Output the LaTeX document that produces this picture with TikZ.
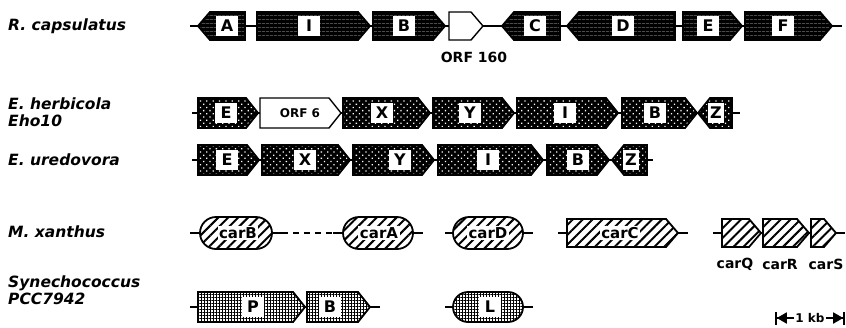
\documentclass[tikz,border=0pt]{standalone}
\usepackage{fontspec}
\setmainfont{DejaVu Sans}
\usetikzlibrary{patterns.meta,arrows.meta}
\newcommand{\geneR}[5]{\draw[#1] (#2,#4-#5) -- (#3-12,#4-#5) -- (#3,#4) -- (#3-12,#4+#5) -- (#2,#4+#5) -- cycle;}
\newcommand{\geneL}[5]{\draw[#1] (#3,#4-#5) -- (#2+12,#4-#5) -- (#2,#4) -- (#2+12,#4+#5) -- (#3,#4+#5) -- cycle;}
\newcommand{\geneO}[5]{\draw[#1,rounded corners=#5pt] (#2,#4-#5) rectangle (#3,#4+#5);}
\begin{document}
\begin{tikzpicture}[x=1pt,y=-1pt,
  bb/.style={line width=2pt},
  rcap/.style={draw,line width=1.8pt,preaction={fill=black},pattern={Lines[angle=0,distance=4pt,line width=0.6pt]},pattern color=black!55},
  erw/.style={draw,line width=1.8pt,preaction={fill=black},pattern={Dots[angle=45,distance=4.5pt,radius=0.9pt]},pattern color=white},
  orf/.style={draw,line width=1.4pt,fill=white},
  mxa/.style={draw,line width=1.8pt,preaction={fill=white},pattern={Lines[angle=45,distance=7pt,line width=2pt]}},
  syn/.style={draw,line width=1.8pt,preaction={fill=white},pattern={Hatch[angle=0,distance=3pt,line width=0.8pt]}},
  lbl/.style={fill=white,inner sep=1.5pt,minimum height=20pt,minimum width=22pt,font=\bfseries\fontsize{16}{16}\selectfont},
  clbl/.style={fill=white,inner sep=1.5pt,font=\bfseries\fontsize{15}{15}\selectfont},
  sp/.style={anchor=west,align=left,inner sep=0pt,font=\bfseries\itshape\fontsize{15.5}{17.5}\selectfont},
  tx/.style={inner sep=0pt,font=\bfseries\fontsize{14}{14}\selectfont},
  kbar/.style={line width=1.8pt,-{Triangle[length=10pt,width=11pt]Bar[width=13pt]}}]
\useasboundingbox (0,0) rectangle (846,327);
\node[sp] (rcap) at (8,26) {R. capsulatus};
\node[sp] (eher) at (8,112) {E. herbicola\\Eho10};
\node[sp] (ured) at (8,160) {E. uredovora};
\node[sp] (mxan) at (8,232) {M. xanthus};
\node[sp] (syne) at (8,290) {Synechococcus\\PCC7942};
\path (190,26) coordinate (r1s) (842,26) coordinate (r1e);
\draw[bb] (r1s) -- (r1e);
\geneL{rcap}{198}{245}{26}{14}
\geneR{rcap}{257}{370}{26}{14}
\geneR{rcap}{373}{445}{26}{14}
\geneR{orf}{449}{483}{26}{14}
\geneL{rcap}{502}{560}{26}{14}
\geneL{rcap}{567}{675}{26}{14}
\geneR{rcap}{683}{742}{26}{14}
\geneR{rcap}{745}{832}{26}{14}
\node[lbl] (rcA) at (227,26) {A};
\node[lbl] (rcI) at (309,26) {I};
\node[lbl] (rcB) at (404,26) {B};
\node[lbl] (rcC) at (535,26) {C};
\node[lbl] (rcD) at (623,26) {D};
\node[lbl] (rcE) at (708,26) {E};
\node[lbl] (rcF) at (783,26) {F};
\node[tx] (orf160) at (474,57) {ORF 160};
\path (192,113) coordinate (r2s) (740,113) coordinate (r2e);
\draw[bb] (r2s) -- (r2e);
\geneR{erw}{198}{258}{113}{15}
\geneR{orf}{260}{341}{113}{15}
\geneR{erw}{343}{430}{113}{15}
\geneR{erw}{433}{514}{113}{15}
\geneR{erw}{517}{618}{113}{15}
\geneR{erw}{622}{697}{113}{15}
\geneL{erw}{698}{732}{113}{15}
\node[lbl] (ehE) at (226,113) {E};
\node[tx,font=\bfseries\fontsize{12}{12}\selectfont] (ehO) at (300,113) {ORF 6};
\node[lbl] (ehX) at (382,113) {X};
\node[lbl] (ehY) at (470,113) {Y};
\node[lbl] (ehI) at (565,113) {I};
\node[lbl] (ehB) at (655,113) {B};
\node[lbl,minimum width=16pt] (ehZ) at (716,113) {Z};
\path (192,160) coordinate (r3s) (653,160) coordinate (r3e);
\draw[bb] (r3s) -- (r3e);
\geneR{erw}{198}{259}{160}{15}
\geneR{erw}{262}{350}{160}{15}
\geneR{erw}{353}{434}{160}{15}
\geneR{erw}{438}{543}{160}{15}
\geneR{erw}{547}{609}{160}{15}
\geneL{erw}{612}{647}{160}{15}
\node[lbl] (euE) at (227,160) {E};
\node[lbl] (euX) at (305,160) {X};
\node[lbl] (euY) at (400,160) {Y};
\node[lbl] (euI) at (488,160) {I};
\node[lbl] (euB) at (578,160) {B};
\node[lbl,minimum width=16pt] (euZ) at (631,160) {Z};
\path (190,233) coordinate (r4s) (282,233) coordinate (r4a) (333,233) coordinate (r4b) (423,233) coordinate (r4c);
\draw[bb] (r4s) -- (r4a);
\draw[bb,dash pattern=on 6pt off 5pt] (r4a) -- (r4b);
\draw[bb] (r4b) -- (r4c);
\path (445,233) coordinate (r4d) (533,233) coordinate (r4e) (558,233) coordinate (r4f) (688,233) coordinate (r4g) (713,233) coordinate (r4h) (845,233) coordinate (r4i);
\draw[bb] (r4d) -- (r4e);
\draw[bb] (r4f) -- (r4g);
\draw[bb] (r4h) -- (r4i);
\geneO{mxa}{200}{272}{233}{16}
\geneO{mxa}{343}{413}{233}{16}
\geneO{mxa}{453}{523}{233}{16}
\geneR{mxa}{567}{678}{233}{14}
\geneR{mxa}{722}{761}{233}{14}
\geneR{mxa}{763}{809}{233}{14}
\geneR{mxa}{811}{836}{233}{14}
\node[clbl] (carB) at (238,233) {carB};
\node[clbl] (carA) at (379,233) {carA};
\node[clbl] (carD) at (488,233) {carD};
\node[clbl] (carC) at (620,233) {carC};
\node[tx] (carQ) at (735,264) {carQ};
\node[tx] (carR) at (780,264) {carR};
\node[tx] (carS) at (826,264) {carS};
\path (190,307) coordinate (r5s) (380,307) coordinate (r5e) (445,307) coordinate (r5f) (533,307) coordinate (r5g);
\draw[bb] (r5s) -- (r5e);
\draw[bb] (r5f) -- (r5g);
\geneR{syn}{198}{305}{307}{15}
\geneR{syn}{307}{370}{307}{15}
\geneO{syn}{453}{523}{307}{15}
\node[lbl] (snP) at (253,307) {P};
\node[lbl] (snB) at (330,307) {B};
\node[lbl] (snL) at (490,307) {L};
\path (775,318) coordinate (kbl) (845,318) coordinate (kbr);
\node[tx,inner sep=1pt,font=\bfseries\fontsize{12}{12}\selectfont] (kb) at (810,318) {1 kb};
\draw[kbar] (kb.west) -- (kbl);
\draw[kbar] (kb.east) -- (kbr);
\end{tikzpicture}
\end{document}
